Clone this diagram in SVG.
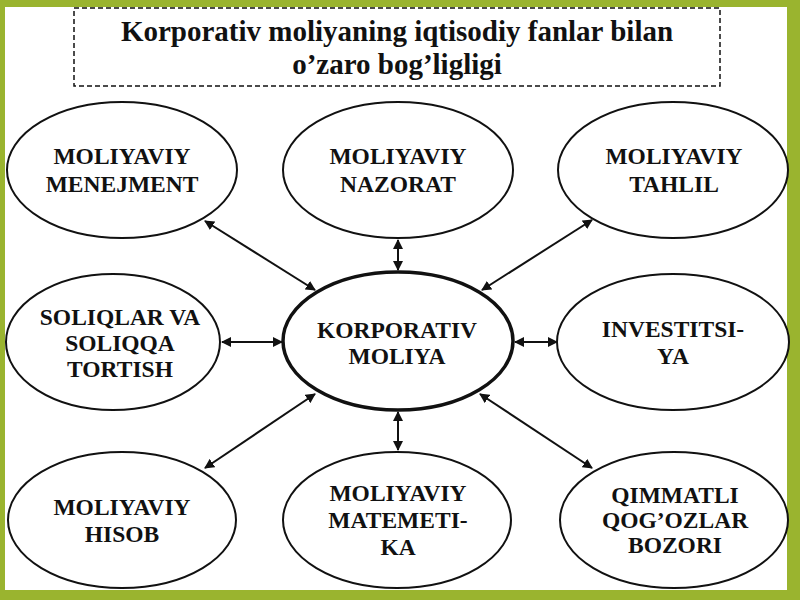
<svg xmlns="http://www.w3.org/2000/svg" width="800" height="600" viewBox="0 0 800 600">
<style>
.lbl{font-family:"Liberation Serif","Times New Roman",serif;font-weight:bold;font-size:23.5px;fill:#111;text-anchor:middle}
.ttl{font-family:"Liberation Serif","Times New Roman",serif;font-weight:bold;font-size:29px;fill:#111;text-anchor:middle}
.node{fill:#fff;stroke:#111;stroke-width:2}
.core{fill:#fff;stroke:#111;stroke-width:3.5}
.conn{stroke:#111;stroke-width:2;fill:none;marker-start:url(#ah);marker-end:url(#ah)}
</style>
<defs>
<marker id="ah" viewBox="0 0 10 10" refX="9" refY="5" markerWidth="5" markerHeight="5" orient="auto-start-reverse" markerUnits="strokeWidth">
<path d="M0,0 L10,5 L0,10 z" fill="#111"/>
</marker>
</defs>
<rect x="0" y="0" width="800" height="600" fill="#9AB42F"/>
<rect x="5" y="7" width="782" height="583" fill="#fff"/>
<g id="title">
<rect x="74" y="8" width="646" height="78" fill="#fff" stroke="#111" stroke-width="1.5" stroke-dasharray="5,3"/>
<text class="ttl" x="397" y="41">Korporativ moliyaning iqtisodiy fanlar bilan</text>
<text class="ttl" x="397" y="74">o’zaro bog’ligligi</text>
</g>
<g id="connectors">
<line class="conn" x1="205" y1="221" x2="315" y2="290"/>
<line class="conn" x1="398" y1="240" x2="398" y2="270"/>
<line class="conn" x1="592" y1="220" x2="482" y2="290"/>
<line class="conn" x1="222" y1="342" x2="282" y2="342"/>
<line class="conn" x1="515" y1="342" x2="557" y2="342"/>
<line class="conn" x1="315" y1="394" x2="205" y2="468"/>
<line class="conn" x1="398" y1="412" x2="398" y2="450"/>
<line class="conn" x1="480" y1="394" x2="592" y2="468"/>
</g>
<g id="n-menejment">
<ellipse class="node" cx="122" cy="170" rx="115" ry="68"/>
<text class="lbl" x="122" y="164">MOLIYAVIY</text>
<text class="lbl" x="122" y="192">MENEJMENT</text>
</g>
<g id="n-nazorat">
<ellipse class="node" cx="398" cy="170" rx="115" ry="68"/>
<text class="lbl" x="398" y="164">MOLIYAVIY</text>
<text class="lbl" x="398" y="192">NAZORAT</text>
</g>
<g id="n-tahlil">
<ellipse class="node" cx="673" cy="170" rx="115" ry="68"/>
<text class="lbl" x="674" y="164">MOLIYAVIY</text>
<text class="lbl" x="674" y="192">TAHLIL</text>
</g>
<g id="n-soliqlar">
<ellipse class="node" cx="113" cy="342" rx="107" ry="68"/>
<text class="lbl" x="120" y="325">SOLIQLAR VA</text>
<text class="lbl" x="120" y="351">SOLIQQA</text>
<text class="lbl" x="120" y="377">TORTISH</text>
</g>
<g id="n-korporativ">
<ellipse class="core" cx="398" cy="341" rx="115" ry="69"/>
<text class="lbl" x="397" y="338">KORPORATIV</text>
<text class="lbl" x="397" y="364">MOLIYA</text>
</g>
<g id="n-investitsiya">
<ellipse class="node" cx="673" cy="342" rx="116" ry="68"/>
<text class="lbl" x="673" y="337">INVESTITSI-</text>
<text class="lbl" x="673" y="364">YA</text>
</g>
<g id="n-hisob">
<ellipse class="node" cx="122" cy="520" rx="114" ry="68"/>
<text class="lbl" x="122" y="515">MOLIYAVIY</text>
<text class="lbl" x="122" y="542">HISOB</text>
</g>
<g id="n-matematika">
<ellipse class="node" cx="397" cy="520" rx="114" ry="68"/>
<text class="lbl" x="398" y="501">MOLIYAVIY</text>
<text class="lbl" x="398" y="528">MATEMETI-</text>
<text class="lbl" x="398" y="555">KA</text>
</g>
<g id="n-qimmatli">
<ellipse class="node" cx="674" cy="520" rx="114" ry="68"/>
<text class="lbl" x="675" y="503">QIMMATLI</text>
<text class="lbl" x="675" y="528">QOG’OZLAR</text>
<text class="lbl" x="675" y="553">BOZORI</text>
</g>
</svg>
